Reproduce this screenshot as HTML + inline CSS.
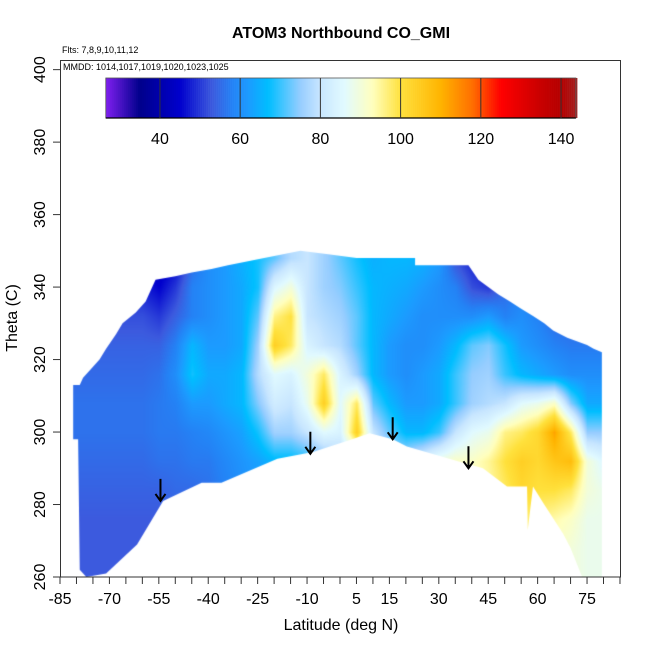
<!DOCTYPE html>
<html><head><meta charset="utf-8">
<style>
html,body{margin:0;padding:0;background:#fff;}
#wrap{position:relative;width:650px;height:650px;font-family:"Liberation Sans",sans-serif;}
canvas,svg{position:absolute;left:0;top:0;}
</style></head>
<body>
<div id="wrap">
<canvas id="cv" width="650" height="650"></canvas>
<svg id="sv" width="650" height="650"></svg>
</div>
<script>
const lats=[-80,-75,-70,-65,-60,-55,-50,-45,-40,-35,-30,-25,-20,-15,-10,-5,0,5,10,15,20,25,30,35,40,45,50,55,60,65,70,75,80];
const thetas=[348,340,332,324,316,308,300,292,284,276,268,260];
const coValues=[
[45,45,45,45,45,42,45,55,60,62,65,68,72,78,80,76,72,68,65,66,66,65,62,52,48,45,50,55,55,55,55,55,55],
[50,50,50,50,48,45,50,58,60,62,64,68,85,90,80,76,74,70,66,65,64,62,60,58,52,50,55,58,58,55,55,55,55],
[52,52,52,52,52,50,54,58,60,62,64,72,96,100,80,78,76,72,66,64,62,60,60,60,60,62,58,60,58,55,55,55,55],
[54,54,54,54,54,54,58,66,62,62,64,76,104,98,84,80,78,72,66,62,60,60,62,66,72,74,68,62,60,58,57,57,57],
[55,55,55,55,55,56,60,68,64,64,66,78,86,84,90,98,84,76,66,62,60,62,64,70,75,76,70,66,64,62,60,60,60],
[56,56,56,56,56,57,58,62,62,64,66,74,82,80,88,104,86,98,72,66,62,62,64,70,76,78,80,86,88,92,74,64,64],
[56,56,56,56,56,57,57,58,59,61,63,68,76,76,80,86,84,104,80,72,66,66,70,80,86,88,96,98,102,112,98,75,75],
[55,55,55,55,55,56,56,57,57,59,61,63,66,66,68,72,76,80,80,78,80,85,90,92,92,95,100,104,102,106,108,90,85],
[54,54,54,54,54,54,55,55,56,58,60,62,64,64,66,68,70,72,74,76,82,88,92,92,92,94,98,102,100,100,98,90,88],
[53,53,53,53,53,53,54,54,55,57,59,61,63,63,65,67,69,71,74,76,80,86,90,90,90,92,95,98,96,94,92,88,88],
[53,53,53,53,53,53,54,54,55,57,59,61,63,63,65,67,69,71,74,76,80,86,90,90,90,92,95,97,95,92,90,88,88],
[53,53,53,53,53,53,54,54,55,57,59,61,63,63,65,67,69,71,74,76,80,86,90,90,90,92,95,97,95,92,90,88,88]];
const topEdge=[[-81,313],[-79,313],[-78,315],[-76,317],[-73,320],[-71,323],[-68,327],[-66,330],[-62,333],[-59,336],[-56,342],[-50,343],[-45,344],[-39,345],[-34,346],[-23,348],[-12,350],[-3,349],[5,348],[22.8,348],[22.8,346],[39,346],[42,342],[45,340],[48,338],[51.6,336],[55,334],[58.6,332],[62,330],[64.7,328],[69,326],[75,324],[77,323],[79.5,322]];
const bottomEdge=[[79.5,260],[73.5,260],[70,268],[67.7,272],[62,280],[58.6,285],[57,273],[56.8,285],[50.7,285],[43.4,290],[35.5,292],[20.3,296],[16,298],[9,299.7],[3,297.8],[-8.2,294.5],[-19,292.6],[-36,286],[-42,286],[-53.7,281],[-61.6,269],[-71,261],[-77,260],[-79,262],[-79.5,298],[-81,298]];
const arrowLats=[-54.5,-9,16,39];
const arrowThetas=[281,294,298,290];
const xTicks=[-85,-80,-75,-70,-65,-60,-55,-50,-45,-40,-35,-30,-25,-20,-15,-10,-5,0,5,10,15,20,25,30,35,40,45,50,55,60,65,70,75,80,85];
const xLabels=[-85,-70,-55,-40,-25,-10,5,15,30,45,60,75];
const yTicks=[260,280,300,320,340,360,380,400];
const cbTicks=[40,60,80,100,120,140];
const cbStops=[[26.5,[128,32,240]],[35,[0,0,139]],[45,[0,0,205]],[53,[60,90,222]],[58,[36,130,245]],[62,[28,155,255]],[67,[0,190,255]],[75,[150,205,255]],[80,[200,230,255]],[86,[225,250,255]],[93,[255,255,190]],[100,[255,225,60]],[110,[255,180,0]],[118,[255,110,0]],[125,[255,0,0]],[135,[200,0,0]],[140,[180,0,0]],[143.7,[165,30,30]]];

const X=l=>60+(l+85)*3.294, Y=t=>577-(t-260)*3.624;
function col(v){
  if(v<=cbStops[0][0])return cbStops[0][1];
  for(let i=1;i<cbStops.length;i++){if(v<=cbStops[i][0]){const a=cbStops[i-1],b=cbStops[i],f=(v-a[0])/(b[0]-a[0]);return a[1].map((c,k)=>Math.round(c+(b[1][k]-c)*f));}}
  return cbStops[cbStops.length-1][1];
}
function val(l,t){
  let fi=(l-lats[0])/5; fi=Math.max(0,Math.min(lats.length-1.001,fi));
  let fj=(thetas[0]-t)/8; fj=Math.max(0,Math.min(thetas.length-1.001,fj));
  const i=Math.floor(fi),j=Math.floor(fj),a=fi-i,b=fj-j;
  const v00=coValues[j][i],v01=coValues[j][i+1],v10=coValues[j+1][i],v11=coValues[j+1][i+1];
  return (v00*(1-a)+v01*a)*(1-b)+(v10*(1-a)+v11*a)*b;
}
const cv=document.getElementById('cv'),ctx=cv.getContext('2d');
const img=ctx.createImageData(650,650);
for(let py=62;py<577;py++){for(let px=61;px<621;px++){
  const l=(px-60)/3.294-85,t=260+(577-py)/3.624;const c=col(val(l,t));const o=(py*650+px)*4;
  img.data[o]=c[0];img.data[o+1]=c[1];img.data[o+2]=c[2];img.data[o+3]=255;}}
const off=document.createElement('canvas');off.width=650;off.height=650;off.getContext('2d').putImageData(img,0,0);
ctx.save();ctx.beginPath();
topEdge.forEach((p,k)=>k?ctx.lineTo(X(p[0]),Y(p[1])):ctx.moveTo(X(p[0]),Y(p[1])));
bottomEdge.forEach(p=>ctx.lineTo(X(p[0]),Y(p[1])));
ctx.closePath();ctx.clip();ctx.drawImage(off,0,0);ctx.restore();

const NS='http://www.w3.org/2000/svg',sv=document.getElementById('sv');
function mk(tag,at,txt){const e=document.createElementNS(NS,tag);for(const k in at)e.setAttribute(k,at[k]);if(txt!=null)e.textContent=txt;sv.appendChild(e);return e;}
let e;
e=mk('rect',{x:60.5,y:60.5,width:560,height:516.5,fill:'none',stroke:'#333','stroke-width':1});


arrowLats.forEach((l,i)=>{const x=X(l),y=Y(arrowThetas[i]);
  e=mk('path',{d:`M${x},${y-22} L${x},${y} M${x-5},${y-7} L${x},${y} L${x+5},${y-7}`,stroke:'#000','stroke-width':2,fill:'none'});
  
  });
mk('line',{x1:X(-85),x2:X(85),y1:577,y2:577,stroke:'#333'});
xTicks.forEach(v=>{e=mk('line',{x1:X(v),x2:X(v),y1:577,y2:584,stroke:'#333'});
  
  });
xLabels.forEach(v=>{e=mk('text',{x:X(v),y:604,'font-size':16,'text-anchor':'middle',fill:'#000'},String(v));
  
  });
yTicks.forEach(v=>{e=mk('line',{x1:53,x2:60,y1:Y(v),y2:Y(v),stroke:'#333'});
  
  
  e=mk('text',{x:0,y:0,'font-size':16,'text-anchor':'middle',fill:'#000',transform:`translate(45,${Y(v)}) rotate(-90)`},String(v));
  
  });
e=mk('text',{x:341,y:38,'font-size':16,'font-weight':'bold','text-anchor':'middle'},'ATOM3 Northbound CO_GMI');


e=mk('text',{x:341,y:630,'font-size':16,'text-anchor':'middle'},'Latitude (deg N)');


e=mk('text',{x:0,y:0,'font-size':16,'text-anchor':'middle',transform:'translate(17,318) rotate(-90)'},'Theta (C)');


e=mk('text',{x:62,y:53,'font-size':9},'Flts: 7,8,9,10,11,12');


e=mk('text',{x:63,y:70,'font-size':9},'MMDD: 1014,1017,1019,1020,1023,1025');


const CX=v=>105.8+(v-26.5)*4.011;
const g=mk('g',{});
for(let v=26.5;v<143.7;v+=0.5){const c=col(v+0.25);const r=document.createElementNS(NS,'rect');
  r.setAttribute('x',CX(v));r.setAttribute('y',78);r.setAttribute('width',2.3);r.setAttribute('height',40);r.setAttribute('fill',`rgb(${c})`);g.appendChild(r);}
mk('rect',{x:105.8,y:78,width:CX(143.7)-105.8,height:40,fill:'none',stroke:'#555','stroke-width':0.8});
mk('line',{x1:105.8,x2:CX(143.7),y1:118,y2:118,stroke:'#000','stroke-width':1.2});
cbTicks.forEach(v=>{e=mk('line',{x1:CX(v),x2:CX(v),y1:78,y2:118,stroke:'#333','stroke-width':1});
  
  
  e=mk('text',{x:CX(v),y:144,'font-size':16,'text-anchor':'middle'},String(v));
  
  });
</script>
</body></html>
